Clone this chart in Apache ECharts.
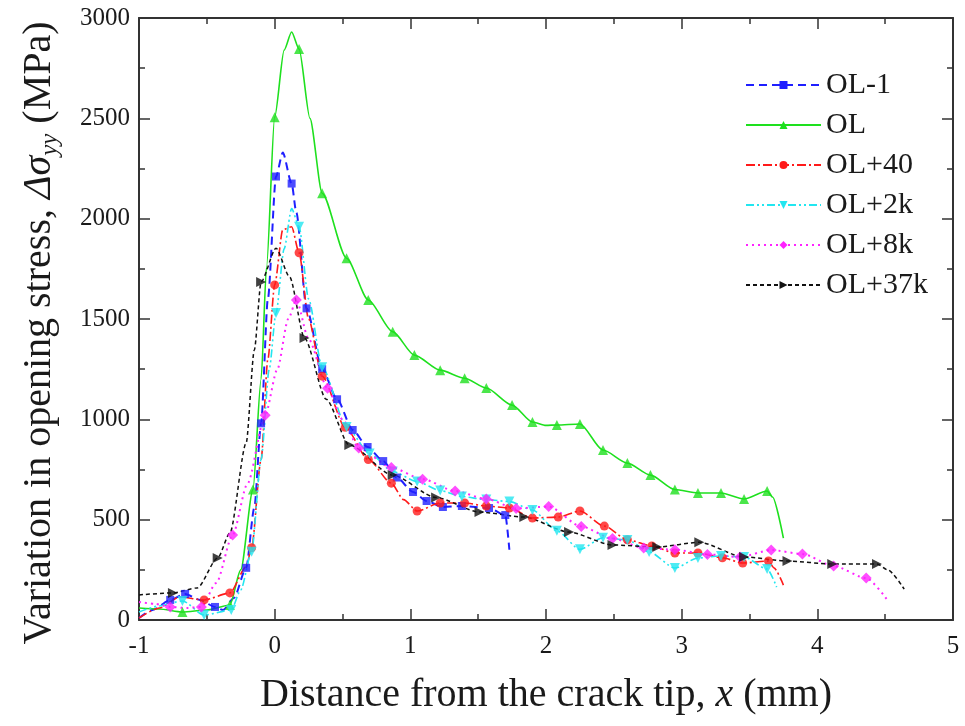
<!DOCTYPE html>
<html>
<head>
<meta charset="utf-8">
<script src="https://cdn.jsdelivr.net/npm/echarts@6/dist/echarts.min.js"></script>
<style>
  html, body { margin: 0; padding: 0; background: #fff; }
  #chart { width: 965px; height: 726px; }
</style>
</head>
<body>
<div id="chart"></div>
<script>
// data: [x (mm), delta sigma_yy (MPa)]
var ol1Pts = [[-1, 10], [-0.9, 50], [-0.77, 100], [-0.66, 130], [-0.55, 100], [-0.44, 65], [-0.38, 50],
  [-0.3, 110], [-0.21, 260], [-0.15, 560], [-0.1, 980], [-0.05, 1600], [0.01, 2210], [0.06, 2330],
  [0.125, 2175], [0.16, 2030], [0.235, 1553], [0.35, 1250], [0.46, 1100], [0.575, 947], [0.685, 862],
  [0.8, 792], [0.9, 710], [1.02, 638], [1.12, 593], [1.24, 563], [1.38, 568], [1.58, 558], [1.7, 523],
  [1.73, 350]];
var ol1Marks = [2, 3, 5, 8, 10, 12, 14, 16, 17, 18, 19, 20, 21, 22, 23, 24, 25, 26, 27, 28];

var olPts = [[-1, 60], [-0.85, 55], [-0.68, 40], [-0.5, 50], [-0.33, 75], [-0.25, 250], [-0.16, 650],
  [-0.1, 1200], [-0.06, 1760], [0, 2506], [0.07, 2840], [0.125, 2930], [0.18, 2845], [0.26, 2500],
  [0.35, 2127], [0.53, 1803], [0.69, 1595], [0.87, 1437], [1.03, 1320], [1.22, 1245], [1.4, 1205],
  [1.56, 1156], [1.75, 1071], [1.9, 987], [2.0, 970], [2.08, 972], [2.25, 977], [2.42, 847], [2.6, 782],
  [2.77, 722], [2.95, 650], [3.12, 633], [3.29, 633], [3.46, 603], [3.63, 643], [3.67, 613], [3.75, 408]];
var olMarks = [2, 4, 6, 9, 12, 14, 15, 16, 17, 18, 19, 20, 21, 22, 23, 25, 26, 27, 28, 29, 30, 31, 32, 33, 34];

var ol40Pts = [[-1, 10], [-0.85, 60], [-0.7, 115], [-0.52, 100], [-0.33, 135], [-0.21, 265], [-0.17, 360],
  [-0.1, 800], [-0.05, 1300], [0, 1670], [0.06, 1945], [0.125, 1960], [0.18, 1830], [0.25, 1500],
  [0.35, 1215], [0.52, 960], [0.69, 800], [0.86, 682], [0.95, 600], [1.05, 543], [1.22, 583], [1.4, 583],
  [1.56, 568], [1.73, 558], [1.9, 508], [2.09, 513], [2.25, 543], [2.43, 468], [2.6, 400], [2.78, 369],
  [2.95, 334], [3.12, 334], [3.3, 310], [3.45, 284], [3.64, 294], [3.68, 260], [3.75, 174]];
var ol40Marks = [3, 4, 6, 9, 12, 14, 15, 16, 17, 19, 20, 21, 22, 23, 24, 25, 26, 27, 28, 29, 30, 31, 32, 33, 34];

var ol2kPts = [[-1, 40], [-0.85, 70], [-0.68, 95], [-0.52, 25], [-0.32, 50], [-0.25, 150], [-0.17, 340],
  [-0.1, 800], [-0.04, 1250], [0.01, 1530], [0.07, 1850], [0.125, 2050], [0.18, 1960], [0.25, 1600],
  [0.35, 1260], [0.53, 962], [0.7, 830], [0.87, 740], [1.05, 690], [1.22, 645], [1.38, 615], [1.56, 600],
  [1.73, 590], [1.9, 548], [2.08, 445], [2.25, 352], [2.42, 410], [2.6, 399], [2.76, 339], [2.95, 259],
  [3.12, 309], [3.29, 319], [3.46, 314], [3.63, 254], [3.7, 164]];
var ol2kMarks = [2, 3, 4, 6, 9, 12, 14, 15, 16, 17, 18, 19, 20, 21, 22, 23, 24, 25, 26, 27, 28, 29, 30, 31, 32, 33];

var ol8kPts = [[-1, 90], [-0.88, 80], [-0.77, 65], [-0.65, 60], [-0.54, 65], [-0.43, 185], [-0.31, 423],
  [-0.2, 680], [-0.07, 1020], [0.02, 1250], [0.1, 1500], [0.16, 1595], [0.25, 1400], [0.39, 1155],
  [0.5, 1000], [0.62, 857], [0.86, 760], [1.09, 702], [1.33, 643], [1.56, 603], [1.78, 556], [2.02, 565],
  [2.26, 466], [2.49, 406], [2.72, 359], [2.95, 350], [3.19, 327], [3.43, 314], [3.66, 349], [3.89, 329],
  [4.12, 269], [4.36, 209], [4.51, 105]];
var ol8kMarks = [2, 4, 6, 8, 11, 13, 15, 16, 17, 18, 19, 20, 21, 22, 23, 24, 25, 26, 27, 28, 29, 30, 31];

var ol37kPts = [[-1, 125], [-0.75, 135], [-0.57, 160], [-0.42, 309], [-0.33, 433], [-0.21, 882],
  [-0.15, 1345], [-0.1, 1685], [0.01, 1853], [0.11, 1710], [0.22, 1405], [0.38, 1100], [0.55, 872],
  [0.87, 722], [1.19, 610], [1.51, 538], [1.84, 513], [2.17, 438], [2.49, 374], [2.82, 364], [3.13, 387],
  [3.46, 314], [3.78, 294], [4.11, 279], [4.44, 279], [4.52, 249], [4.64, 154]];
var ol37kMarks = [1, 3, 7, 10, 12, 13, 14, 15, 16, 17, 18, 19, 20, 21, 22, 23, 24];

var names = ["OL-1", "OL", "OL+40", "OL+2k", "OL+8k", "OL+37k"];

var serif = "'Liberation Serif', 'DejaVu Serif', serif";
var ink = "#1a1a1a";

var chart = echarts.init(document.getElementById("chart"));

function curve(name, pts, marks, color, dash, width, symbol, size, rotate) {
  var common = {
    name: name,
    symbol: symbol,
    symbolSize: size,
    symbolRotate: rotate || 0,
    itemStyle: { color: color },
    lineStyle: { color: color, type: dash, width: width }
  };
  return [
    Object.assign({}, common, {
      type: "line",
      data: pts,
      showSymbol: false,
      smooth: 0.25,
      smoothMonotone: "x",
      z: 2
    }),
    Object.assign({}, common, {
      type: "scatter",
      data: marks.map(function (i) { return pts[i]; }),
      z: 3
    })
  ];
}

var series = [].concat(
  curve(names[0], ol1Pts, ol1Marks, "#1f1fff", [8, 5], 2, "rect", 8),
  curve(names[1], olPts, olMarks, "#1ee01e", "solid", 1.6, "triangle", 10),
  curve(names[2], ol40Pts, ol40Marks, "#ff1a1a", [9, 3, 2, 3], 1.6, "circle", 9),
  curve(names[3], ol2kPts, ol2kMarks, "#22e6f0", [8, 3, 2, 3, 2, 3], 1.6, "triangle", 10, 180),
  curve(names[4], ol8kPts, ol8kMarks, "#ff22ff", [2, 4], 2, "diamond", 11),
  curve(names[5], ol37kPts, ol37kMarks, "#111111", [4, 3], 1.5, "triangle", 10, -90)
);

var tickStyle = { color: "#333", width: 1.5 };

function plain(v) { return String(v); }

function xAx(pos, showLabel) {
  return {
    type: "value", position: pos, min: -1, max: 5, interval: 1,
    axisLine: { show: true, onZero: false, lineStyle: { color: "#333", width: 2 } },
    axisTick: { show: true, inside: true, length: 11, lineStyle: tickStyle },
    minorTick: { show: true, splitNumber: 2, length: 6, lineStyle: tickStyle },
    splitLine: { show: false },
    axisLabel: { show: showLabel, margin: 14, color: ink, fontFamily: serif, fontSize: 25, formatter: plain }
  };
}

function yAx(pos, showLabel) {
  return {
    type: "value", position: pos, min: 0, max: 3000, interval: 500,
    axisLine: { show: true, onZero: false, lineStyle: { color: "#333", width: 2 } },
    axisTick: { show: true, inside: true, length: 11, lineStyle: tickStyle },
    minorTick: { show: true, splitNumber: 2, length: 6, lineStyle: tickStyle },
    splitLine: { show: false },
    axisLabel: { show: showLabel, margin: 9, color: ink, fontFamily: serif, fontSize: 25, formatter: plain }
  };
}

var xBottom = xAx("bottom", true);
xBottom.name = "Distance from the crack tip, {i|x} (mm)";
xBottom.nameLocation = "middle";
xBottom.nameGap = 55;
xBottom.nameTextStyle = {
  color: ink, fontFamily: serif, fontSize: 40,
  rich: { i: { fontStyle: "italic", fontFamily: serif, fontSize: 40, color: ink } }
};

var yLeft = yAx("left", true);
yLeft.name = "Variation in opening stress, {i|\u0394\u03c3}{s|yy} (MPa)";
yLeft.nameLocation = "middle";
yLeft.nameRotate = 90;
yLeft.nameGap = 76;
yLeft.nameTextStyle = {
  color: ink, fontFamily: serif, fontSize: 40, lineHeight: 48,
  padding: [0, 28, 0, 0],
  rich: {
    i: { fontStyle: "italic", fontFamily: serif, fontSize: 40, color: ink, lineHeight: 48 },
    s: { fontStyle: "italic", fontFamily: serif, fontSize: 25, color: ink, verticalAlign: "bottom", lineHeight: 25 }
  }
};

var option = {
  backgroundColor: "#fff",
  animation: false,
  grid: { left: 139, right: 12, top: 18, bottom: 106, outerBoundsMode: "none" },
  legend: {
    data: names,
    orient: "vertical",
    left: 740,
    top: 65,
    itemWidth: 75,
    itemHeight: 10,
    itemGap: 10,
    selectedMode: false,
    textStyle: { color: ink, fontFamily: serif, fontSize: 30, lineHeight: 30 }
  },
  xAxis: [xBottom, xAx("top", false)],
  yAxis: [yLeft, yAx("right", false)],
  series: series
};

chart.setOption(option);
</script>
</body>
</html>
